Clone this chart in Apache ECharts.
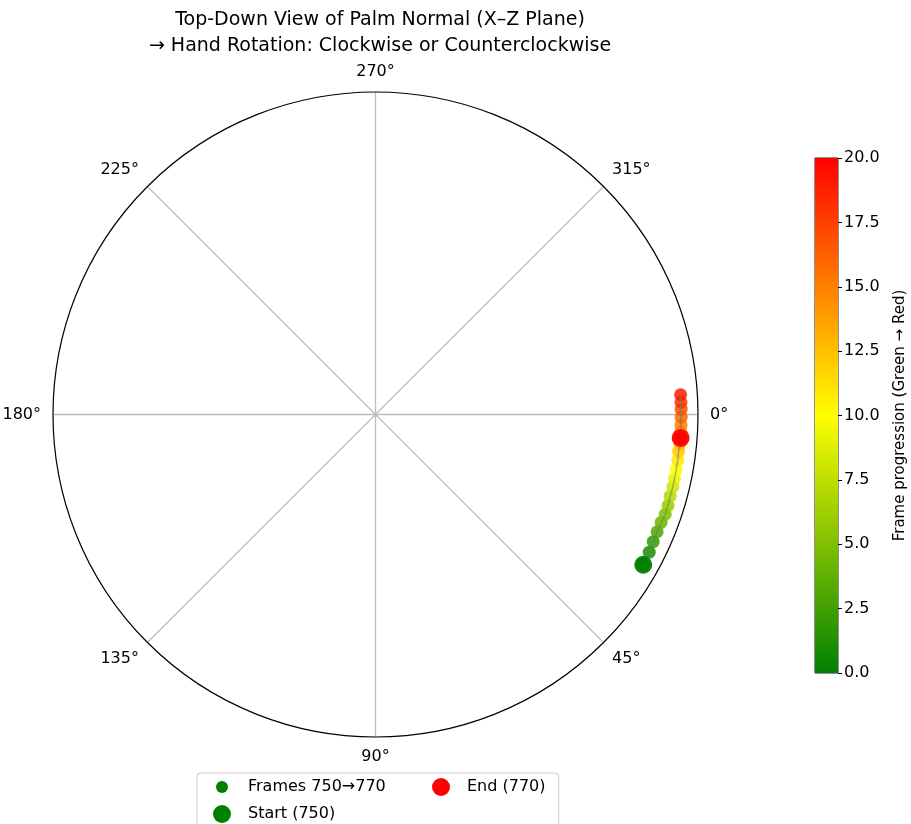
<!DOCTYPE html>
<html>
<head>
<meta charset="utf-8">
<script src="https://cdn.jsdelivr.net/npm/echarts@6/dist/echarts.min.js"></script>
<style>
  html, body { margin: 0; padding: 0; background: #fff; }
  #chart { width: 911px; height: 824px; }
</style>
</head>
<body>
<div id="chart"></div>
<script>
// Palm-normal direction projected on the X–Z plane, frames 750 → 770
const frameIndex = [0, 1, 2, 3, 4, 5, 6, 7, 8, 9, 10, 11, 12, 13, 14, 15, 16, 17, 18, 19, 20];
const radiusVals = [0.952, 0.950, 0.947, 0.946, 0.947, 0.950, 0.950, 0.948, 0.949, 0.948, 0.948,
                    0.948, 0.947, 0.948, 0.948, 0.948, 0.948, 0.948, 0.948, 0.948, 0.949];
const angleDeg   = [29.3, 26.7, 24.6, 22.6, 20.7, 19.0, 17.3, 15.5, 13.7, 12.1, 10.4,
                    8.6, 6.9, 5.5, 3.3, 2.0, 0.5, 359.0, 357.7, 356.3, 4.4];
const angleTicks = [0, 45, 90, 135, 180, 225, 270, 315];
const colorbarTicks = [0, 2.5, 5, 7.5, 10, 12.5, 15, 17.5, 20];
const frameStart = 750, frameEnd = 770;

const FONT = 'DejaVu Sans';
const pts = frameIndex.map((f, i) => [radiusVals[i], angleDeg[i], f]);
const last = frameIndex.length - 1;
const framesName = 'Frames ' + frameStart + '\u2192' + frameEnd;
const startName = 'Start (' + frameStart + ')';
const endName = 'End (' + frameEnd + ')';

// legend icon: a circle of radius r inside a fixed 36x20 box
function dotIcon(r) {
  const cx = 15, cy = 10;
  return 'path://M0,0 M36,20 M' + (cx - r) + ',' + cy +
    ' A' + r + ',' + r + ' 0 1,0 ' + (cx + r) + ',' + cy +
    ' A' + r + ',' + r + ' 0 1,0 ' + (cx - r) + ',' + cy + ' Z';
}

const legendText = { fontFamily: FONT, fontSize: 16, color: '#000' };

const chart = echarts.init(document.getElementById('chart'), null, { renderer: 'canvas' });
chart.setOption({
  animation: false,
  backgroundColor: '#ffffff',
  textStyle: { fontFamily: FONT },
  title: {
    text: 'Top-Down View of Palm Normal (X\u2013Z Plane)\n\u2192 Hand Rotation: Clockwise or Counterclockwise',
    left: 375, top: 2, textAlign: 'center',
    textStyle: { fontFamily: FONT, fontSize: 19, fontWeight: 'normal', color: '#000', lineHeight: 26 }
  },
  polar: { center: [375.5, 414.5], radius: 322.5 },
  angleAxis: {
    type: 'value', min: 0, max: 360, interval: 45,
    startAngle: 0, clockwise: true,
    axisLine: { show: true, lineStyle: { color: '#000', width: 1.2 } },
    axisTick: { show: false },
    axisLabel: {
      margin: 12, fontFamily: FONT, fontSize: 16, color: '#000',
      formatter: v => angleTicks.indexOf(v) >= 0 ? v + '\u00b0' : ''
    },
    splitLine: { show: true, lineStyle: { color: '#bdbdbd', width: 1.3 } }
  },
  radiusAxis: {
    type: 'value', min: 0, max: 1,
    axisLine: { show: false }, axisTick: { show: false },
    axisLabel: { show: false }, splitLine: { show: false }
  },
  // colour bar
  grid: { left: 815, top: 158, width: 23, height: 515, show: true,
          borderColor: '#222', borderWidth: 1, backgroundColor: 'transparent' },
  xAxis: { type: 'category', data: [''], show: false },
  yAxis: {
    type: 'value', min: colorbarTicks[0], max: colorbarTicks[colorbarTicks.length - 1], interval: 2.5,
    position: 'right',
    axisLine: { show: false },
    axisTick: { show: true, length: 4, lineStyle: { color: '#000' } },
    axisLabel: { margin: 6, fontFamily: FONT, fontSize: 16, color: '#000', formatter: v => v.toFixed(1) },
    splitLine: { show: false },
    name: 'Frame progression (Green \u2192 Red)',
    nameLocation: 'middle', nameRotate: 90, nameGap: 55,
    nameTextStyle: { fontFamily: FONT, fontSize: 15, color: '#000' }
  },
  visualMap: {
    type: 'continuous', show: false, min: 0, max: 20, dimension: 2, seriesIndex: 0,
    inRange: { color: ['#008000', '#ffff00', '#ff0000'] }
  },
  legend: [
    {
      // first column (also carries the frame of the legend box); '' starts a new row
      left: 197, top: 773, orient: 'horizontal',
      itemGap: 7, itemWidth: 36, itemHeight: 20,
      padding: [4, 173, 8, 10],
      borderColor: '#cccccc', borderWidth: 1, borderRadius: 4,
      backgroundColor: 'rgba(255,255,255,0.8)',
      textStyle: legendText,
      data: [
        { name: framesName, icon: dotIcon(6), itemStyle: { color: '#008000', opacity: 1 } },
        '',
        { name: startName, icon: dotIcon(9), itemStyle: { color: '#008000', opacity: 1 } }
      ]
    },
    {
      // second column
      left: 416, top: 773, orient: 'horizontal',
      itemGap: 7, itemWidth: 36, itemHeight: 20,
      padding: [4, 10, 8, 10], z: 5,
      textStyle: legendText,
      data: [
        { name: endName, icon: dotIcon(9), itemStyle: { color: '#ff0000', opacity: 1 } }
      ]
    }
  ],
  series: [
    {
      name: framesName,
      type: 'scatter', coordinateSystem: 'polar',
      symbolSize: 13, itemStyle: { opacity: 0.85 },
      data: pts, z: 2
    },
    {
      name: 'path', type: 'line', coordinateSystem: 'polar',
      symbol: 'none', lineStyle: { color: 'rgba(100,130,100,0.6)', width: 1.4 },
      data: pts.map(p => [p[0], p[1]]), z: 3
    },
    {
      name: endName,
      type: 'scatter', coordinateSystem: 'polar',
      symbolSize: 18, itemStyle: { color: '#ff0000', opacity: 0.95 },
      data: [[radiusVals[last], angleDeg[last]]], z: 4
    },
    {
      name: startName,
      type: 'scatter', coordinateSystem: 'polar',
      symbolSize: 18, itemStyle: { color: '#008000', opacity: 0.95 },
      data: [[radiusVals[0], angleDeg[0]]], z: 4
    },
    {
      name: 'colorbar', type: 'bar', xAxisIndex: 0, yAxisIndex: 0,
      barWidth: '100%', silent: true,
      itemStyle: {
        color: new echarts.graphic.LinearGradient(0, 0, 0, 1, [
          { offset: 0, color: '#ff0000' },
          { offset: 0.5, color: '#ffff00' },
          { offset: 1, color: '#008000' }
        ])
      },
      data: [colorbarTicks[colorbarTicks.length - 1]]
    }
  ]
});
</script>
</body>
</html>
